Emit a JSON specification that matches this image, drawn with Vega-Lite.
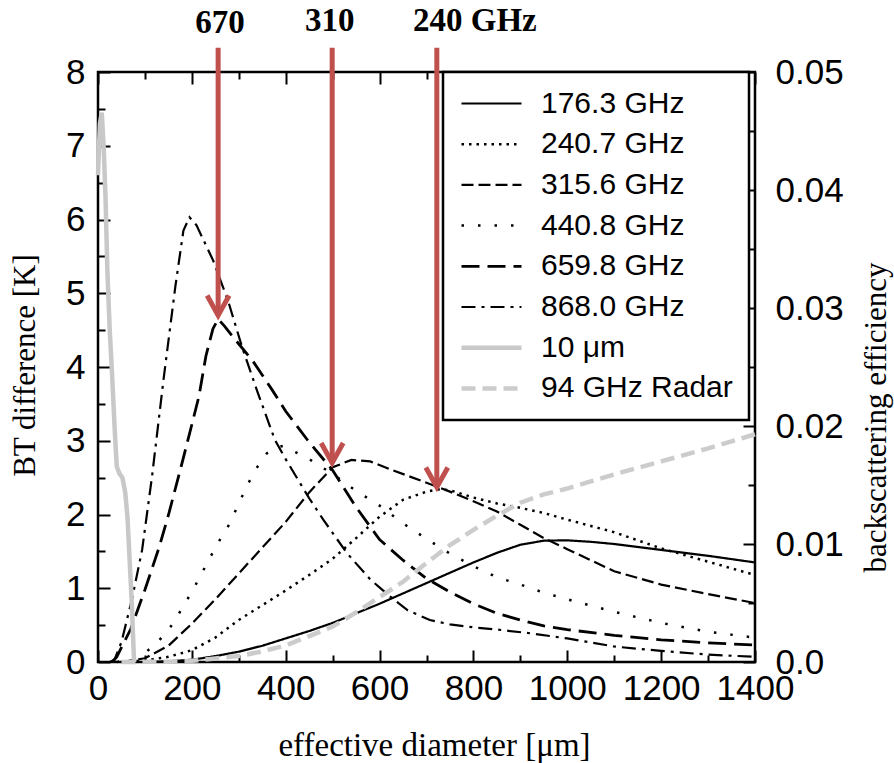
{
"$schema": "https://vega.github.io/schema/vega-lite/v6.json",
"width": 657, "height": 590,
"autosize": {"type": "none"},
"padding": {"left": 98, "top": 72, "right": 139, "bottom": 101},
"background": "white",
"config": {
  "view": {"stroke": "black", "strokeWidth": 2.5},
  "font": "Liberation Sans",
  "axis": {"domain": false, "grid": false, "tickColor": "black", "tickWidth": 2, "labelFont": "Liberation Sans", "labelFontSize": 35, "labelColor": "black", "titleFont": "Liberation Serif", "titleFontWeight": "normal", "titleFontSize": 31, "titleColor": "black", "labelFlush": false, "labelOverlap": false, "labelBound": false},
  "legend": {"strokeWidth": 2.5}
},
"datasets": {
  "curves": [
{"s":"176.3 GHz","d":0,"v":0},{"s":"176.3 GHz","d":100,"v":0},{"s":"176.3 GHz","d":150,"v":0.01},{"s":"176.3 GHz","d":200,"v":0.03},{"s":"176.3 GHz","d":250,"v":0.08},{"s":"176.3 GHz","d":300,"v":0.14},{"s":"176.3 GHz","d":350,"v":0.22},{"s":"176.3 GHz","d":400,"v":0.32},{"s":"176.3 GHz","d":450,"v":0.42},{"s":"176.3 GHz","d":500,"v":0.53},{"s":"176.3 GHz","d":550,"v":0.66},{"s":"176.3 GHz","d":600,"v":0.79},{"s":"176.3 GHz","d":650,"v":0.93},{"s":"176.3 GHz","d":700,"v":1.07},{"s":"176.3 GHz","d":750,"v":1.21},{"s":"176.3 GHz","d":800,"v":1.35},{"s":"176.3 GHz","d":850,"v":1.48},{"s":"176.3 GHz","d":900,"v":1.59},{"s":"176.3 GHz","d":950,"v":1.645},{"s":"176.3 GHz","d":1000,"v":1.65},{"s":"176.3 GHz","d":1050,"v":1.63},{"s":"176.3 GHz","d":1100,"v":1.6},{"s":"176.3 GHz","d":1200,"v":1.52},{"s":"176.3 GHz","d":1300,"v":1.44},{"s":"176.3 GHz","d":1400,"v":1.35},
{"s":"240.7 GHz","d":50,"v":0},{"s":"240.7 GHz","d":100,"v":0.02},{"s":"240.7 GHz","d":150,"v":0.07},{"s":"240.7 GHz","d":200,"v":0.16},{"s":"240.7 GHz","d":250,"v":0.33},{"s":"240.7 GHz","d":300,"v":0.57},{"s":"240.7 GHz","d":350,"v":0.77},{"s":"240.7 GHz","d":400,"v":0.97},{"s":"240.7 GHz","d":450,"v":1.18},{"s":"240.7 GHz","d":500,"v":1.4},{"s":"240.7 GHz","d":550,"v":1.68},{"s":"240.7 GHz","d":600,"v":1.97},{"s":"240.7 GHz","d":650,"v":2.2},{"s":"240.7 GHz","d":700,"v":2.31},{"s":"240.7 GHz","d":725,"v":2.34},{"s":"240.7 GHz","d":750,"v":2.33},{"s":"240.7 GHz","d":800,"v":2.23},{"s":"240.7 GHz","d":850,"v":2.15},{"s":"240.7 GHz","d":900,"v":2.09},{"s":"240.7 GHz","d":950,"v":2.02},{"s":"240.7 GHz","d":1000,"v":1.93},{"s":"240.7 GHz","d":1100,"v":1.76},{"s":"240.7 GHz","d":1200,"v":1.54},{"s":"240.7 GHz","d":1300,"v":1.36},{"s":"240.7 GHz","d":1400,"v":1.18},
{"s":"315.6 GHz","d":50,"v":0},{"s":"315.6 GHz","d":100,"v":0.05},{"s":"315.6 GHz","d":150,"v":0.22},{"s":"315.6 GHz","d":200,"v":0.52},{"s":"315.6 GHz","d":250,"v":0.85},{"s":"315.6 GHz","d":300,"v":1.2},{"s":"315.6 GHz","d":350,"v":1.55},{"s":"315.6 GHz","d":400,"v":1.9},{"s":"315.6 GHz","d":450,"v":2.3},{"s":"315.6 GHz","d":500,"v":2.64},{"s":"315.6 GHz","d":540,"v":2.74},{"s":"315.6 GHz","d":580,"v":2.72},{"s":"315.6 GHz","d":620,"v":2.62},{"s":"315.6 GHz","d":700,"v":2.43},{"s":"315.6 GHz","d":750,"v":2.31},{"s":"315.6 GHz","d":800,"v":2.18},{"s":"315.6 GHz","d":850,"v":2.04},{"s":"315.6 GHz","d":900,"v":1.86},{"s":"315.6 GHz","d":950,"v":1.68},{"s":"315.6 GHz","d":1000,"v":1.53},{"s":"315.6 GHz","d":1050,"v":1.38},{"s":"315.6 GHz","d":1100,"v":1.23},{"s":"315.6 GHz","d":1200,"v":1.05},{"s":"315.6 GHz","d":1300,"v":0.92},{"s":"315.6 GHz","d":1400,"v":0.8},
{"s":"440.8 GHz","d":40,"v":0},{"s":"440.8 GHz","d":70,"v":0.04},{"s":"440.8 GHz","d":100,"v":0.12},{"s":"440.8 GHz","d":130,"v":0.29},{"s":"440.8 GHz","d":160,"v":0.52},{"s":"440.8 GHz","d":180,"v":0.74},{"s":"440.8 GHz","d":200,"v":0.95},{"s":"440.8 GHz","d":220,"v":1.19},{"s":"440.8 GHz","d":240,"v":1.43},{"s":"440.8 GHz","d":260,"v":1.66},{"s":"440.8 GHz","d":280,"v":1.87},{"s":"440.8 GHz","d":300,"v":2.15},{"s":"440.8 GHz","d":320,"v":2.42},{"s":"440.8 GHz","d":340,"v":2.65},{"s":"440.8 GHz","d":360,"v":2.83},{"s":"440.8 GHz","d":380,"v":2.91},{"s":"440.8 GHz","d":395,"v":2.93},{"s":"440.8 GHz","d":410,"v":2.88},{"s":"440.8 GHz","d":450,"v":2.75},{"s":"440.8 GHz","d":500,"v":2.55},{"s":"440.8 GHz","d":550,"v":2.32},{"s":"440.8 GHz","d":600,"v":2.12},{"s":"440.8 GHz","d":650,"v":1.88},{"s":"440.8 GHz","d":700,"v":1.67},{"s":"440.8 GHz","d":750,"v":1.47},{"s":"440.8 GHz","d":800,"v":1.3},{"s":"440.8 GHz","d":850,"v":1.15},{"s":"440.8 GHz","d":900,"v":1.05},{"s":"440.8 GHz","d":950,"v":0.94},{"s":"440.8 GHz","d":1000,"v":0.85},{"s":"440.8 GHz","d":1100,"v":0.68},{"s":"440.8 GHz","d":1200,"v":0.53},{"s":"440.8 GHz","d":1300,"v":0.41},{"s":"440.8 GHz","d":1400,"v":0.33},
{"s":"659.8 GHz","d":30,"v":0},{"s":"659.8 GHz","d":40,"v":0.07},{"s":"659.8 GHz","d":70,"v":0.45},{"s":"659.8 GHz","d":100,"v":0.98},{"s":"659.8 GHz","d":130,"v":1.55},{"s":"659.8 GHz","d":150,"v":1.99},{"s":"659.8 GHz","d":180,"v":2.72},{"s":"659.8 GHz","d":200,"v":3.22},{"s":"659.8 GHz","d":215,"v":3.6},{"s":"659.8 GHz","d":230,"v":4.15},{"s":"659.8 GHz","d":245,"v":4.52},{"s":"659.8 GHz","d":256,"v":4.65},{"s":"659.8 GHz","d":270,"v":4.55},{"s":"659.8 GHz","d":290,"v":4.39},{"s":"659.8 GHz","d":330,"v":4.08},{"s":"659.8 GHz","d":370,"v":3.7},{"s":"659.8 GHz","d":400,"v":3.4},{"s":"659.8 GHz","d":450,"v":2.98},{"s":"659.8 GHz","d":500,"v":2.6},{"s":"659.8 GHz","d":550,"v":2.1},{"s":"659.8 GHz","d":600,"v":1.66},{"s":"659.8 GHz","d":650,"v":1.38},{"s":"659.8 GHz","d":700,"v":1.13},{"s":"659.8 GHz","d":750,"v":0.95},{"s":"659.8 GHz","d":800,"v":0.79},{"s":"659.8 GHz","d":850,"v":0.66},{"s":"659.8 GHz","d":900,"v":0.57},{"s":"659.8 GHz","d":950,"v":0.49},{"s":"659.8 GHz","d":1000,"v":0.44},{"s":"659.8 GHz","d":1100,"v":0.36},{"s":"659.8 GHz","d":1200,"v":0.3},{"s":"659.8 GHz","d":1300,"v":0.26},{"s":"659.8 GHz","d":1400,"v":0.23},
{"s":"868.0 GHz","d":25,"v":0},{"s":"868.0 GHz","d":35,"v":0.03},{"s":"868.0 GHz","d":50,"v":0.27},{"s":"868.0 GHz","d":72,"v":0.84},{"s":"868.0 GHz","d":94,"v":1.52},{"s":"868.0 GHz","d":115,"v":2.51},{"s":"868.0 GHz","d":140,"v":3.85},{"s":"868.0 GHz","d":165,"v":5.1},{"s":"868.0 GHz","d":182,"v":5.85},{"s":"868.0 GHz","d":195,"v":6.03},{"s":"868.0 GHz","d":210,"v":5.92},{"s":"868.0 GHz","d":245,"v":5.45},{"s":"868.0 GHz","d":277,"v":4.9},{"s":"868.0 GHz","d":307,"v":4.27},{"s":"868.0 GHz","d":340,"v":3.66},{"s":"868.0 GHz","d":377,"v":3.01},{"s":"868.0 GHz","d":400,"v":2.75},{"s":"868.0 GHz","d":450,"v":2.22},{"s":"868.0 GHz","d":480,"v":1.93},{"s":"868.0 GHz","d":530,"v":1.48},{"s":"868.0 GHz","d":580,"v":1.12},{"s":"868.0 GHz","d":622,"v":0.89},{"s":"868.0 GHz","d":660,"v":0.7},{"s":"868.0 GHz","d":707,"v":0.57},{"s":"868.0 GHz","d":750,"v":0.51},{"s":"868.0 GHz","d":800,"v":0.47},{"s":"868.0 GHz","d":850,"v":0.44},{"s":"868.0 GHz","d":920,"v":0.39},{"s":"868.0 GHz","d":1000,"v":0.32},{"s":"868.0 GHz","d":1100,"v":0.21},{"s":"868.0 GHz","d":1200,"v":0.15},{"s":"868.0 GHz","d":1300,"v":0.1},{"s":"868.0 GHz","d":1400,"v":0.07},
{"s":"10 μm","d":0,"v":6.6},{"s":"10 μm","d":4,"v":7.3},{"s":"10 μm","d":8,"v":7.45},{"s":"10 μm","d":12,"v":7.0},{"s":"10 μm","d":16,"v":6.3},{"s":"10 μm","d":20,"v":5.3},{"s":"10 μm","d":25,"v":4.5},{"s":"10 μm","d":30,"v":3.9},{"s":"10 μm","d":36,"v":3.1},{"s":"10 μm","d":40,"v":2.65},{"s":"10 μm","d":46,"v":2.55},{"s":"10 μm","d":52,"v":2.5},{"s":"10 μm","d":58,"v":2.3},{"s":"10 μm","d":63,"v":1.95},{"s":"10 μm","d":68,"v":1.3},{"s":"10 μm","d":72,"v":0.8},{"s":"10 μm","d":75,"v":0.3},{"s":"10 μm","d":77,"v":0}
  ],
  "radar": [
{"s":"94 GHz Radar","d":50,"r":0},{"s":"94 GHz Radar","d":150,"r":0.00003},{"s":"94 GHz Radar","d":200,"r":0.0001},{"s":"94 GHz Radar","d":250,"r":0.0003},{"s":"94 GHz Radar","d":300,"r":0.0005},{"s":"94 GHz Radar","d":350,"r":0.0009},{"s":"94 GHz Radar","d":400,"r":0.0014},{"s":"94 GHz Radar","d":450,"r":0.0022},{"s":"94 GHz Radar","d":500,"r":0.003},{"s":"94 GHz Radar","d":550,"r":0.0042},{"s":"94 GHz Radar","d":600,"r":0.0055},{"s":"94 GHz Radar","d":650,"r":0.0068},{"s":"94 GHz Radar","d":700,"r":0.0084},{"s":"94 GHz Radar","d":750,"r":0.0099},{"s":"94 GHz Radar","d":800,"r":0.0112},{"s":"94 GHz Radar","d":850,"r":0.0124},{"s":"94 GHz Radar","d":900,"r":0.0135},{"s":"94 GHz Radar","d":950,"r":0.0142},{"s":"94 GHz Radar","d":1000,"r":0.0147},{"s":"94 GHz Radar","d":1050,"r":0.0153},{"s":"94 GHz Radar","d":1100,"r":0.0159},{"s":"94 GHz Radar","d":1200,"r":0.017},{"s":"94 GHz Radar","d":1300,"r":0.0181},{"s":"94 GHz Radar","d":1400,"r":0.0193}
  ],
  "arrows": [
    {"d": 256, "v": 4.70, "v2": 8.33},
    {"d": 499, "v": 2.70, "v2": 8.33},
    {"d": 722, "v": 2.37, "v2": 8.33}
  ],
  "notes": [
    {"d": 260, "v": 8.66, "t": "670"},
    {"d": 494, "v": 8.69, "t": "310"},
    {"d": 803, "v": 8.69, "t": "240 GHz"}
  ]
},
"layer": [
  {
    "encoding": {
      "x": {"field": "d", "type": "quantitative", "title": "effective diameter [μm]",
        "scale": {"domain": [0, 1400], "nice": false, "zero": false},
        "axis": {"orient": "bottom", "values": [0,100,200,300,400,500,600,700,800,900,1000,1100,1200,1300,1400],
          "labelExpr": "datum.value % 200 === 0 ? format(datum.value, 'd') : ''",
          "tickSize": {"condition": {"test": "datum.value % 200 === 0", "value": -12}, "value": -7},
          "labelPadding": 21, "labelBaseline": "top", "titleX": 336, "titleY": 83, "titleBaseline": "middle", "titleFontSize": 33}},
      "y": {"field": "v", "type": "quantitative", "title": "BT difference [K]",
        "scale": {"domain": [0, 8], "nice": false, "zero": false},
        "axis": {"orient": "left", "values": [0,0.5,1,1.5,2,2.5,3,3.5,4,4.5,5,5.5,6,6.5,7,7.5,8],
          "labelExpr": "datum.value % 1 === 0 ? format(datum.value, 'd') : ''",
          "tickSize": {"condition": {"test": "datum.value % 1 === 0", "value": -12}, "value": -7},
          "labelPadding": 25, "labelBaseline": "middle", "titleX": -73, "titleY": 293, "titleAngle": 270, "titleBaseline": "middle"}}
    },
    "layer": [
      {
        "data": {"name": "curves"},
        "mark": {"type": "line", "strokeCap": "butt"},
        "encoding": {
          "detail": {"field": "s"},
          "color": {"field": "s", "type": "nominal", "title": null,
            "scale": {"domain": ["176.3 GHz","240.7 GHz","315.6 GHz","440.8 GHz","659.8 GHz","868.0 GHz","10 μm","94 GHz Radar"],
              "range": ["#000000","#000000","#000000","#000000","#000000","#000000","#c8c8c8","#cccccc"]},
            "legend": {"title": null, "orient": "none", "legendX": 345, "legendY": 0, "padding": 16, "clipHeight": 31, "strokeColor": "black", "fillColor": "white", "symbolType": "stroke", "symbolSize": 3600, "labelFont": "Liberation Sans", "labelFontSize": 30, "labelColor": "black", "labelOffset": 17, "rowPadding": 9.7, "labelLimit": 400}},
          "strokeDash": {"field": "s", "type": "nominal", "title": null,
            "scale": {"domain": ["176.3 GHz","240.7 GHz","315.6 GHz","440.8 GHz","659.8 GHz","868.0 GHz","10 μm","94 GHz Radar"],
              "range": [[1,0],[2.5,5],[12,5],[2.5,14],[18,8],[14,6,3,6],[1,0],[14,7]]},
            "legend": {"title": null, "orient": "none", "legendX": 345, "legendY": 0, "padding": 16, "clipHeight": 31, "strokeColor": "black", "fillColor": "white", "symbolType": "stroke", "symbolSize": 3600, "labelFont": "Liberation Sans", "labelFontSize": 30, "labelColor": "black", "labelOffset": 17, "rowPadding": 9.7, "labelLimit": 400}},
          "strokeWidth": {"field": "s", "type": "nominal", "title": null,
            "scale": {"type": "ordinal", "domain": ["176.3 GHz","240.7 GHz","315.6 GHz","440.8 GHz","659.8 GHz","868.0 GHz","10 μm","94 GHz Radar"],
              "range": [2.2,2.5,2.2,2.5,2.8,2.2,4.5,4.5]},
            "legend": {"title": null, "orient": "none", "legendX": 345, "legendY": 0, "padding": 16, "clipHeight": 31, "strokeColor": "black", "fillColor": "white", "symbolType": "stroke", "symbolSize": 3600, "labelFont": "Liberation Sans", "labelFontSize": 30, "labelColor": "black", "labelOffset": 17, "rowPadding": 9.7, "labelLimit": 400}}
        }
      },
      {
        "data": {"name": "arrows"},
        "mark": {"type": "rule", "color": "#c0504d", "strokeWidth": 5},
        "encoding": {"y2": {"field": "v2"}}
      },
      {
        "data": {"name": "arrows"},
        "mark": {"type": "point", "shape": "M-1,-1.8L0,0L1,-1.8", "filled": false, "size": 484, "color": "#c0504d", "strokeWidth": 5, "opacity": 1},
        "encoding": {}
      },
      {
        "data": {"name": "notes"},
        "mark": {"type": "text", "font": "Liberation Serif", "fontWeight": "bold", "fontSize": 33, "align": "center", "baseline": "middle", "color": "black"},
        "encoding": {"text": {"field": "t"}}
      }
    ]
  },
  {
    "data": {"name": "radar"},
    "mark": {"type": "line", "strokeCap": "butt"},
    "encoding": {
      "x": {"field": "d", "type": "quantitative", "title": null,
        "scale": {"domain": [0, 1400], "nice": false, "zero": false},
        "axis": {"orient": "top", "values": [0,100,200,300,400,500,600,700,800,900,1000,1100,1200,1300,1400], "labels": false,
          "tickSize": {"condition": {"test": "datum.value % 200 === 0", "value": -12}, "value": -7}}},
      "y": {"field": "r", "type": "quantitative", "title": "backscattering efficiency",
        "scale": {"domain": [0, 0.05], "nice": false, "zero": false},
        "axis": {"orient": "right", "values": [0,0.005,0.01,0.015,0.02,0.025,0.03,0.035,0.04,0.045,0.05],
          "labelExpr": "datum.value === 0 ? '0.0' : (abs(datum.value*100 - round(datum.value*100)) < 0.001 ? format(datum.value, '.2f') : '')",
          "tickSize": {"condition": {"test": "abs(datum.value*100 - round(datum.value*100)) < 0.001", "value": -12}, "value": -7},
          "labelPadding": 32, "labelBaseline": "middle", "titleX": 121, "titleY": 345, "titleAngle": 270, "titleBaseline": "middle"}},
      "detail": {"field": "s"},
      "color": {"field": "s", "type": "nominal", "title": null,
        "scale": {"domain": ["176.3 GHz","240.7 GHz","315.6 GHz","440.8 GHz","659.8 GHz","868.0 GHz","10 μm","94 GHz Radar"],
          "range": ["#000000","#000000","#000000","#000000","#000000","#000000","#c8c8c8","#cccccc"]},
        "legend": {"title": null, "orient": "none", "legendX": 345, "legendY": 0, "padding": 16, "clipHeight": 31, "strokeColor": "black", "fillColor": "white", "symbolType": "stroke", "symbolSize": 3600, "labelFont": "Liberation Sans", "labelFontSize": 30, "labelColor": "black", "labelOffset": 17, "rowPadding": 9.7, "labelLimit": 400}},
      "strokeDash": {"field": "s", "type": "nominal", "title": null,
        "scale": {"domain": ["176.3 GHz","240.7 GHz","315.6 GHz","440.8 GHz","659.8 GHz","868.0 GHz","10 μm","94 GHz Radar"],
          "range": [[1,0],[2.5,5],[12,5],[2.5,14],[18,8],[14,6,3,6],[1,0],[14,7]]},
        "legend": {"title": null, "orient": "none", "legendX": 345, "legendY": 0, "padding": 16, "clipHeight": 31, "strokeColor": "black", "fillColor": "white", "symbolType": "stroke", "symbolSize": 3600, "labelFont": "Liberation Sans", "labelFontSize": 30, "labelColor": "black", "labelOffset": 17, "rowPadding": 9.7, "labelLimit": 400}},
      "strokeWidth": {"field": "s", "type": "nominal", "title": null,
        "scale": {"type": "ordinal", "domain": ["176.3 GHz","240.7 GHz","315.6 GHz","440.8 GHz","659.8 GHz","868.0 GHz","10 μm","94 GHz Radar"],
          "range": [2.2,2.5,2.2,2.5,2.8,2.2,4.5,4.5]},
        "legend": {"title": null, "orient": "none", "legendX": 345, "legendY": 0, "padding": 16, "clipHeight": 31, "strokeColor": "black", "fillColor": "white", "symbolType": "stroke", "symbolSize": 3600, "labelFont": "Liberation Sans", "labelFontSize": 30, "labelColor": "black", "labelOffset": 17, "rowPadding": 9.7, "labelLimit": 400}}
    }
  }
],
"resolve": {"scale": {"y": "independent"}, "axis": {"x": "independent"}}
}
